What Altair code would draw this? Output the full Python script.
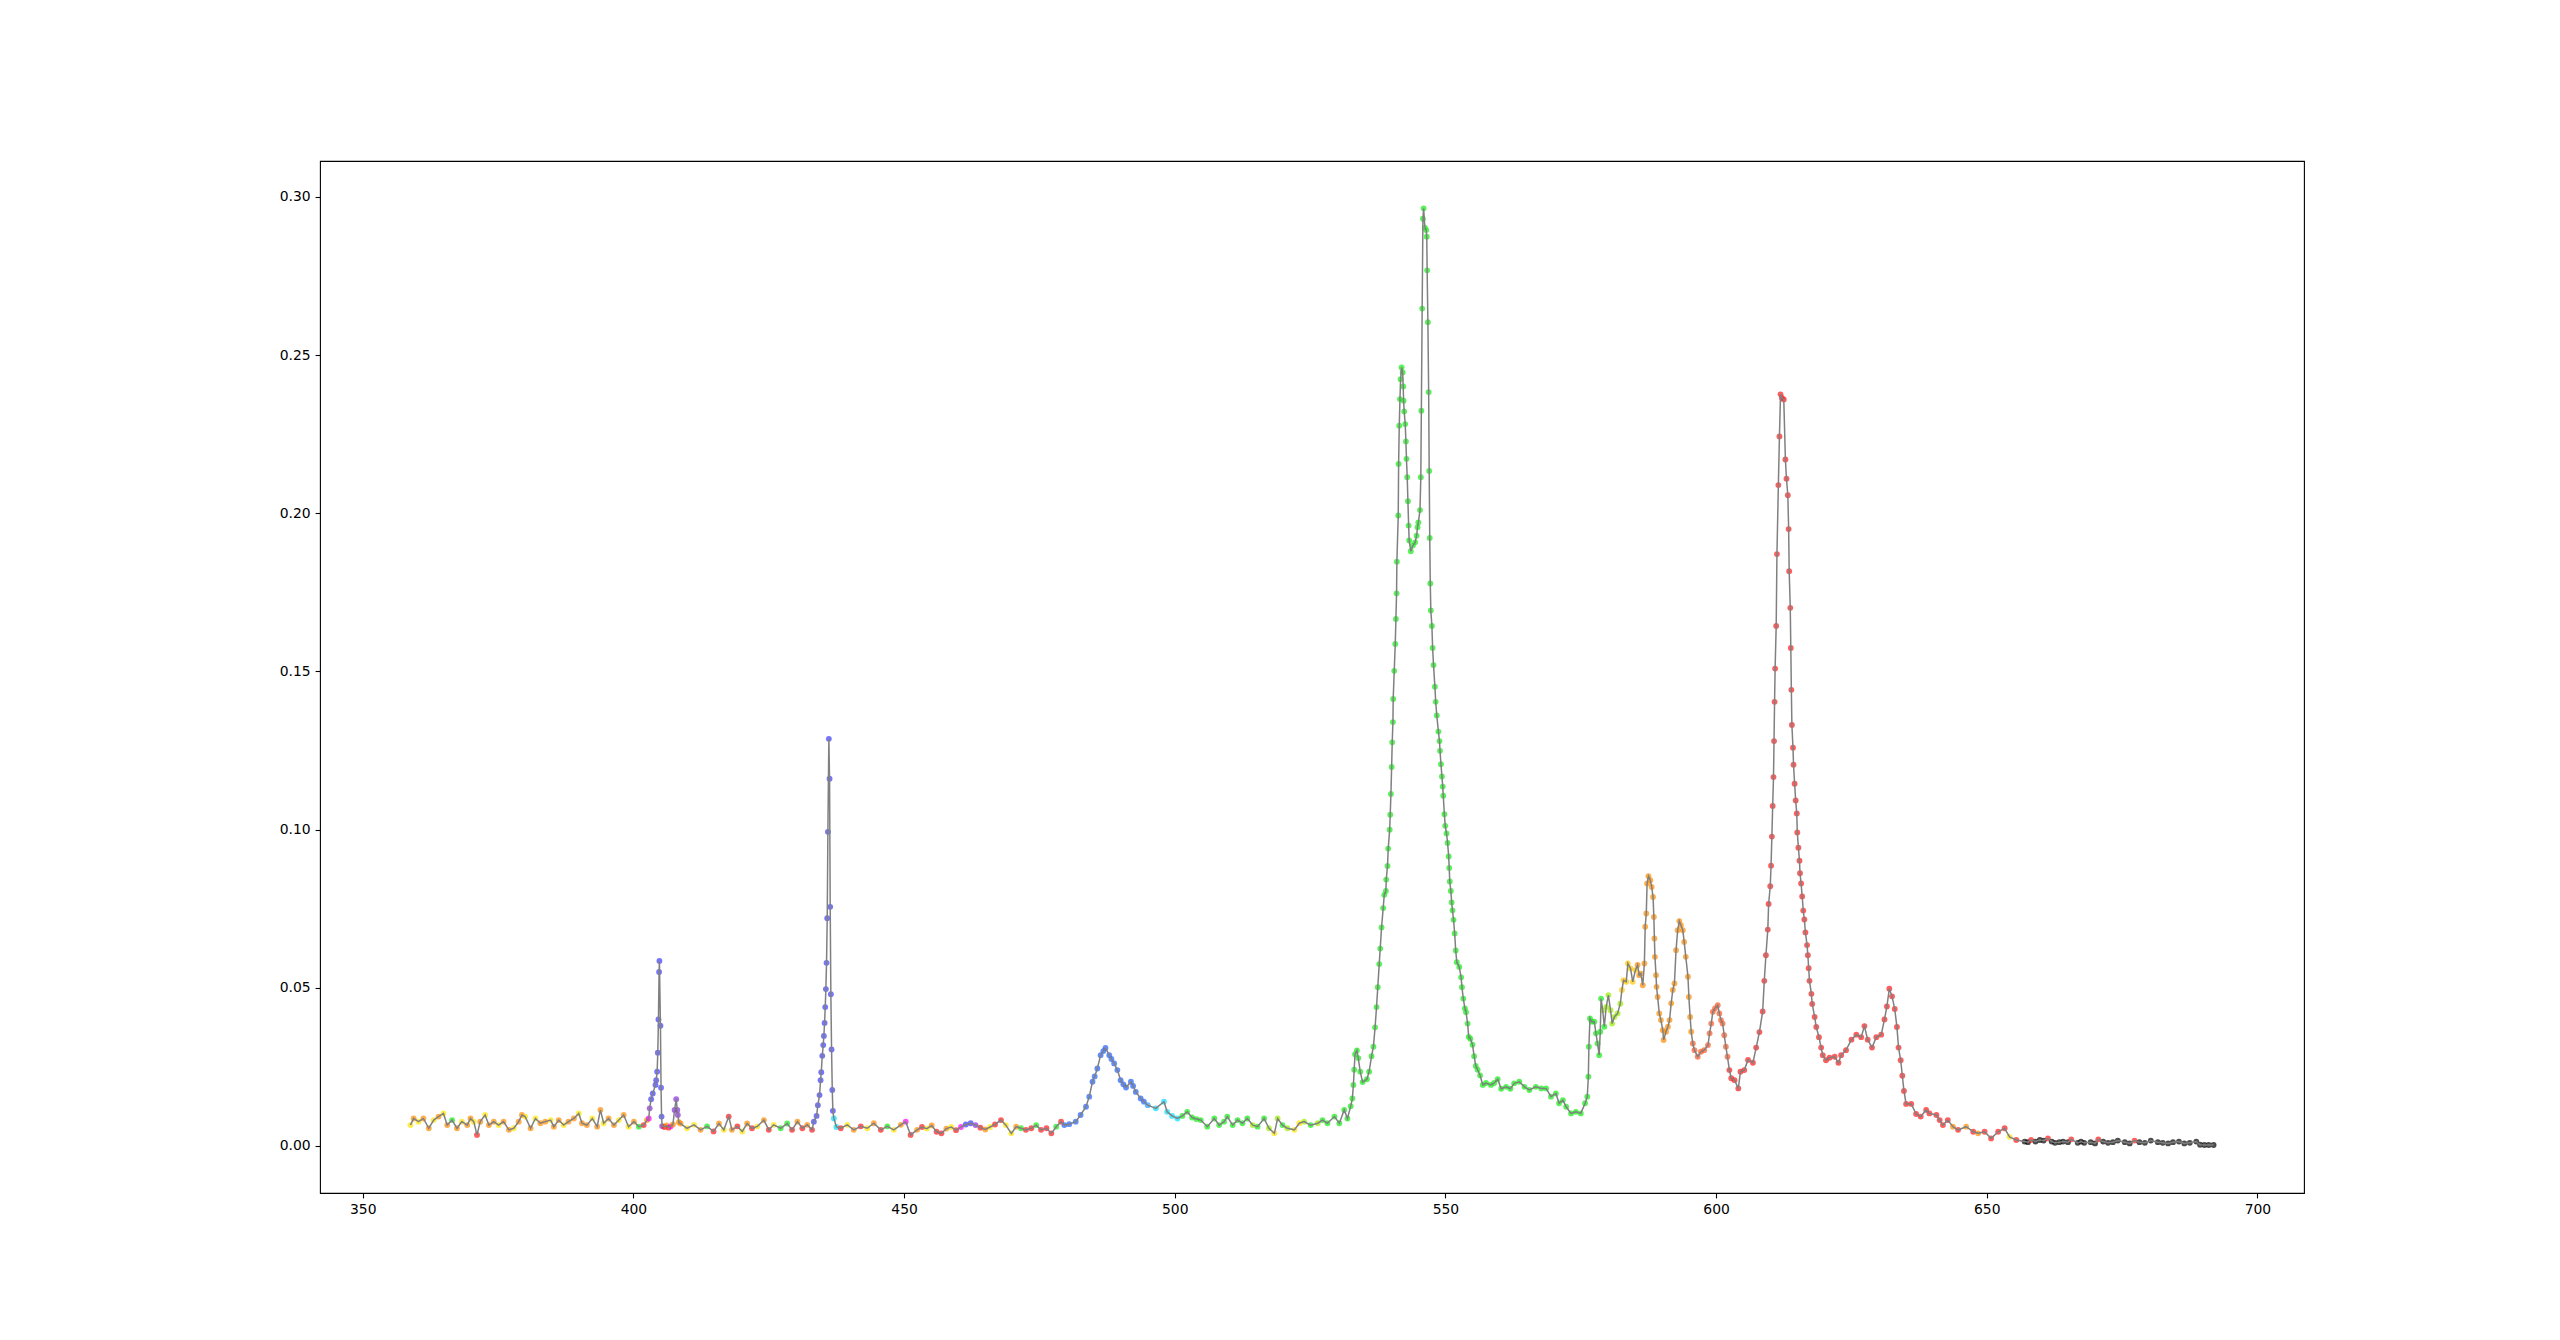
import altair as alt
import pandas as pd

# ---------------- data (wavelength nm, intensity, colour codes) ----------------
# baseline 359-402 nm
base_uv_wl = [358.8, 359.4, 360.3, 361.2, 362.2, 363.1, 364.0, 364.9, 365.6, 366.5,
              367.4, 368.3, 369.3, 369.9, 370.5, 371.1, 371.7, 372.6, 373.3, 374.2,
              375.1, 376.0, 377.0, 377.9, 378.8, 379.4, 380.0, 381.0, 381.9, 382.8,
              383.7, 384.7, 385.3, 386.2, 387.1, 388.0, 389.0, 389.9, 390.5, 391.4,
              392.4, 393.3, 393.9, 394.5, 395.4, 396.4, 397.3, 398.2, 399.1, 400.1,
              401.0, 401.9, 402.5]
base_uv_val = [0.0066, 0.0087, 0.0077, 0.0087, 0.0056, 0.0082, 0.0093, 0.0103, 0.0066, 0.0082,
               0.0056, 0.0077, 0.0066, 0.0087, 0.0077, 0.0035, 0.0077, 0.0098, 0.0066, 0.0077,
               0.0066, 0.0077, 0.0051, 0.0056, 0.0077, 0.0098, 0.0093, 0.0056, 0.0087, 0.0072,
               0.0077, 0.0082, 0.0061, 0.0082, 0.0066, 0.0077, 0.0087, 0.0103, 0.0072, 0.0066,
               0.0087, 0.0061, 0.0114, 0.0072, 0.0087, 0.0066, 0.0082, 0.0098, 0.0061, 0.0077,
               0.0061, 0.0066, 0.0082]
base_uv_col = "yoyooyoyog" "oyooyroyoo" "yooyooyoyo" "oyooyooyoo" "yooyooyoyo" "gro"

# Hg 404.7 nm line and small 407.8 line
peak405_wl = [402.83, 403.0, 403.27, 403.57, 404.07, 404.2, 404.38, 404.5, 404.62, 404.74,
              404.8, 404.99, 405.1, 405.2, 405.3, 405.7, 406.1, 406.5, 406.9, 407.3,
              407.6, 407.9, 408.1, 408.2, 408.4]
peak405_val = [0.0087, 0.0119, 0.0148, 0.0166, 0.0193, 0.0208, 0.0235, 0.0295, 0.040, 0.055,
               0.0585, 0.038, 0.0184, 0.0093, 0.0063, 0.0060, 0.0065, 0.0058, 0.0062, 0.0068,
               0.0114, 0.0148, 0.0114, 0.0098, 0.0075]
peak405_col = "mv" "bbbbbbbbbbbb" "vrormovvvvo"

# baseline 408-433 nm
base_b1_wl = [408.7, 409.9, 411.2, 412.4, 413.6, 414.8, 415.8, 416.7, 417.6, 418.2,
              419.2, 420.1, 421.0, 421.9, 422.9, 424.1, 425.0, 425.9, 427.2, 428.4,
              429.3, 430.3, 431.2, 432.1, 433.0]
base_b1_val = [0.0071, 0.0056, 0.0067, 0.0051, 0.0062, 0.0046, 0.0071, 0.0051, 0.0093, 0.0051,
               0.0062, 0.0046, 0.0071, 0.0056, 0.0062, 0.0082, 0.0051, 0.0067, 0.0056, 0.0071,
               0.0051, 0.0077, 0.0056, 0.0067, 0.0051]
base_b1_col = "oyyogroyroryoryoryggroror"

# Hg 435.8 nm line
peak436_wl = [433.33, 433.83, 434.07, 434.38, 434.57, 434.7, 434.88, 435.06, 435.18, 435.31,
              435.43, 435.55, 435.67, 435.8, 435.92, 436.1, 436.23, 436.35, 436.47, 436.6,
              436.73, 436.84, 437.03]
peak436_val = [0.0077, 0.0095, 0.0129, 0.0161, 0.0208, 0.0233, 0.0285, 0.0319, 0.0348, 0.0389,
               0.0439, 0.0496, 0.0579, 0.072, 0.0993, 0.1287, 0.1161, 0.0756, 0.048, 0.0305,
               0.0177, 0.0111, 0.0087]
peak436_col = "bbbbbbbbbbbbbbbbbbbbbbc"

# baseline 437-479 nm
base_b2_wl = [437.5, 438.3, 439.5, 440.7, 442.0, 443.2, 444.4, 445.7, 446.9, 448.1,
              449.4, 450.3, 451.2, 452.4, 453.3, 454.2, 455.1, 456.0, 456.9, 457.8,
              458.7, 459.6, 460.5, 461.4, 462.3, 463.2, 464.1, 465.0, 465.9, 466.8,
              467.9, 468.8, 469.8, 470.7, 471.6, 472.5, 473.5, 474.4, 475.3, 476.3,
              477.2, 478.1, 479.0]
base_b2_val = [0.0060, 0.0056, 0.0067, 0.0051, 0.0062, 0.0056, 0.0072, 0.0051, 0.0062, 0.0051,
               0.0067, 0.0077, 0.0035, 0.0051, 0.0060, 0.0055, 0.0065, 0.0045, 0.0040, 0.0055,
               0.0060, 0.0050, 0.0060, 0.0068, 0.0072, 0.0066, 0.0058, 0.0052, 0.0060, 0.0068,
               0.0082, 0.0066, 0.0040, 0.0061, 0.0056, 0.0051, 0.0056, 0.0066, 0.0051, 0.0056,
               0.0040, 0.0061, 0.0077]
base_b2_col = "cryoryorgy" "omroryorro" "yrmbbvroyr" "ryyogrrgrr" "rgr"

# hump around 487 nm
hump487_wl = [479.6, 480.5, 481.7, 482.6, 483.6, 484.2, 484.8, 485.2, 485.7, 486.3,
              486.8, 487.2, 487.9, 488.3, 488.8, 489.4, 490.0, 490.5, 491.0, 491.9,
              492.3, 492.8, 493.7, 494.3, 495.0, 496.5, 498.0, 498.6, 499.5, 500.5,
              501.4, 502.3, 503.2, 504.0, 504.8]
hump487_val = [0.0066, 0.0069, 0.0077, 0.0098, 0.0124, 0.0156, 0.0203, 0.0220, 0.0245, 0.0287,
               0.0300, 0.0310, 0.0287, 0.0275, 0.0261, 0.0240, 0.0208, 0.0195, 0.0185, 0.0203,
               0.0190, 0.0171, 0.0150, 0.0140, 0.0129, 0.0119, 0.0140, 0.0108, 0.0095, 0.0087,
               0.0095, 0.0108, 0.0090, 0.0085, 0.0082]
hump487_col = "aaaaaaaaaaaaaaaaaaaaaaaa" "s" "ccccc" "ggggg"

# baseline 506-532 nm
base_g_wl = [506.0, 507.3, 508.2, 509.1, 509.7, 510.7, 511.6, 512.5, 513.4, 514.4,
             515.3, 516.5, 517.4, 518.4, 519.0, 519.9, 520.8, 522.1, 523.0, 523.9,
             525.1, 526.4, 527.3, 528.2, 529.5, 530.4, 531.3, 531.9]
base_g_val = [0.0061, 0.0087, 0.0066, 0.0077, 0.0093, 0.0066, 0.0082, 0.0072, 0.0087, 0.0066,
              0.0061, 0.0087, 0.0056, 0.0040, 0.0087, 0.0066, 0.0056, 0.0051, 0.0072, 0.0077,
              0.0066, 0.0072, 0.0082, 0.0072, 0.0093, 0.0072, 0.0114, 0.0087]
base_g_col = "ggggggggg" "lggly" "lglyy" "lgl" "gggggg"

# 542 / 546 nm double peak
peak546_wl = [532.5, 532.8, 533.0, 533.14, 533.3, 533.65, 533.9, 534.26, 534.7, 535.5,
              535.9, 536.35, 536.7, 537.0, 537.27, 537.5, 537.77, 537.95, 538.2, 538.5,
              538.7, 539.0, 539.06, 539.3, 539.43, 539.7, 539.8, 539.93, 540.06, 540.17,
              540.3, 540.35, 540.54, 540.73, 540.85, 540.97, 541.03, 541.28, 541.35, 541.47,
              541.6, 541.72, 541.9, 542.1, 542.2, 542.27, 542.38, 542.57, 542.7, 542.8,
              542.94, 543.07, 543.2, 543.3, 543.6, 543.99, 544.4, 544.67, 544.85, 545.0,
              545.3, 545.45, 545.55, 545.7, 545.84, 545.97, 546.2, 546.45, 546.55, 546.62,
              546.76, 546.9, 547.0, 547.1, 547.2, 547.3, 547.5, 547.63, 547.8, 548.05,
              548.2, 548.4, 548.7, 548.9, 549.0, 549.17, 549.35, 549.5, 549.6, 549.8,
              549.96, 550.2, 550.4, 550.6, 550.7, 550.8, 551.0, 551.15, 551.3, 551.5,
              551.7, 551.9, 552.1, 552.55, 552.9, 553.05, 553.3, 553.6, 553.8, 554.1,
              554.3, 554.6, 555.0, 555.3, 555.6, 555.95, 556.4, 556.9, 557.5, 558.4,
              559.0, 559.65, 560.3, 561.2, 562.0]
peak546_val = [0.0126, 0.0150, 0.0193, 0.0241, 0.0290, 0.0302, 0.0278, 0.0235, 0.0202, 0.0211,
               0.0235, 0.0284, 0.0314, 0.0375, 0.0439, 0.0502, 0.0575, 0.0624, 0.0691, 0.0752,
               0.0794, 0.0806, 0.0842, 0.0885, 0.0940, 0.1000, 0.1047, 0.1113, 0.1198, 0.1276,
               0.1340, 0.1413, 0.1502, 0.1587, 0.1666, 0.1747, 0.1847, 0.1993, 0.2156, 0.2277,
               0.2361, 0.2424, 0.2461, 0.2445, 0.2401, 0.2356, 0.2322, 0.2282, 0.2227, 0.2172,
               0.2114, 0.2038, 0.1961, 0.1914, 0.1880, 0.1898, 0.1908, 0.1929, 0.1956, 0.1971,
               0.2010, 0.2114, 0.2324, 0.2647, 0.2931, 0.2964, 0.2903, 0.2895, 0.2874, 0.2768,
               0.2604, 0.2383, 0.2134, 0.1922, 0.1778, 0.1693, 0.1644, 0.1574, 0.1520, 0.1452,
               0.1404, 0.1361, 0.1310, 0.1280, 0.1249, 0.1207, 0.1168, 0.1136, 0.1107, 0.1049,
               0.1012, 0.0988, 0.0958, 0.0915, 0.0879, 0.0836, 0.0806, 0.0770, 0.0745, 0.0715,
               0.0672, 0.0618, 0.0581, 0.0566, 0.0533, 0.0502, 0.0466, 0.0435, 0.0423, 0.0387,
               0.0345, 0.0339, 0.0320, 0.0284, 0.0253, 0.0241, 0.0223, 0.0193, 0.0199, 0.0193,
               0.0199, 0.0211, 0.0181, 0.0187, 0.0181]
peak546_col = "g"

# 562-606 nm (plateau, 577-595 orange peaks)
mid_wl = [562.7, 563.65, 564.6, 565.5, 566.7, 567.7, 568.6, 569.5, 570.4, 571.0,
          571.7, 572.3, 573.2, 574.1, 575.0, 575.8, 576.2, 576.4, 576.5, 576.7,
          577.0, 577.5, 577.8, 578.1, 578.4, 578.6, 578.75, 579.05, 579.35, 579.7,
          580.1, 580.5, 580.8, 581.2, 581.8, 582.3, 582.6, 582.9, 583.4, 583.7,
          584.2, 584.6, 585.1, 585.5, 585.8, 586.1, 586.45, 586.75, 586.9, 587.1,
          587.25, 587.5, 587.85, 588.1, 588.35, 588.5, 588.6, 588.7, 588.9, 589.0,
          589.2, 589.5, 589.8, 590.15, 590.3, 590.75, 591.1, 591.4, 591.7, 592.0,
          592.3, 592.6, 592.9, 593.2, 593.5, 593.85, 594.1, 594.4, 594.8, 594.97,
          595.2, 595.4, 595.7, 596.0, 596.6, 597.2, 597.8, 598.5, 598.8, 599.1,
          599.4, 599.8, 600.3, 600.6, 600.9, 601.2, 601.5, 601.8, 602.1, 602.45,
          602.8, 603.4, 604.1, 604.5, 605.2, 605.9]
mid_val = [0.0198, 0.0203, 0.0187, 0.0177, 0.0187, 0.0182, 0.0182, 0.0156, 0.0166, 0.0135,
           0.0145, 0.0124, 0.0103, 0.0108, 0.0103, 0.0135, 0.0156, 0.0219, 0.0314, 0.0403,
           0.0393, 0.0393, 0.0356, 0.0324, 0.0287, 0.0361, 0.0466, 0.0429, 0.0377, 0.0440,
           0.0477, 0.0429, 0.0387, 0.0408, 0.0419, 0.0450, 0.0493, 0.0524, 0.0519, 0.0577,
           0.0561, 0.0519, 0.0556, 0.0572, 0.0540, 0.0545, 0.0508, 0.0577, 0.0693, 0.0735,
           0.0830, 0.0853, 0.0840, 0.0819, 0.0787, 0.0724, 0.0656, 0.0598, 0.0540, 0.0503,
           0.0471, 0.0419, 0.0398, 0.0366, 0.0335, 0.0361, 0.0377, 0.0398, 0.0451, 0.0493,
           0.0514, 0.0619, 0.0682, 0.0711, 0.0698, 0.0682, 0.0645, 0.0598, 0.0535, 0.0471,
           0.0408, 0.0361, 0.0324, 0.0303, 0.0282, 0.0298, 0.0303, 0.0319, 0.0356, 0.0387,
           0.0424, 0.0435, 0.0445, 0.0419, 0.0398, 0.0387, 0.0350, 0.0314, 0.0282, 0.0240,
           0.0214, 0.0208, 0.0182, 0.0235, 0.0240, 0.0272]
mid_col = ("g" * 27 + "lg" + "l" * 7 + "d" * 7 + "o" * 39 + "n" * 17 + "r" * 7)

# 612 nm red peak and 632 nm shoulder
peak612_wl = [606.8, 607.4, 608.0, 608.6, 608.9, 609.2, 609.55, 609.7, 610.0, 610.15,
              610.3, 610.45, 610.6, 610.7, 610.8, 610.9, 611.1, 611.24, 611.5, 611.7,
              611.9, 612.15, 612.5, 612.8, 613.0, 613.25, 613.4, 613.5, 613.7, 613.8,
              613.9, 614.0, 614.2, 614.3, 614.5, 614.7, 614.9, 615.0, 615.2, 615.4,
              615.5, 615.7, 615.9, 616.1, 616.3, 616.5, 616.8, 616.95, 617.1, 617.25,
              617.6, 617.75, 618.2, 618.5, 619.0, 619.4, 619.7, 620.3, 620.95, 621.9,
              622.6, 623.1, 624.0, 625.0, 625.9, 626.8, 627.4, 628.0, 628.8, 629.6,
              630.5, 631.1, 631.55, 632.0, 632.5, 633.0, 633.4, 633.7, 634.1, 634.4,
              634.7, 635.1, 636.05, 636.95, 637.8]
peak612_val = [0.0263, 0.0311, 0.0360, 0.0425, 0.0522, 0.0603, 0.0684, 0.0765, 0.0821, 0.0886,
               0.0978, 0.1075, 0.1166, 0.1280, 0.1404, 0.1509, 0.1644, 0.1871, 0.2089, 0.2243,
               0.2376, 0.2365, 0.2360, 0.2170, 0.2109, 0.2057, 0.1950, 0.1817, 0.1701, 0.1574,
               0.1442, 0.1331, 0.1259, 0.1205, 0.1145, 0.1092, 0.1051, 0.0991, 0.0943, 0.0902,
               0.0862, 0.0830, 0.0789, 0.0744, 0.0716, 0.0675, 0.0635, 0.0603, 0.0562, 0.0522,
               0.0481, 0.0449, 0.0408, 0.0376, 0.0344, 0.0311, 0.0287, 0.0271, 0.0279, 0.0282,
               0.0263, 0.0287, 0.0303, 0.0336, 0.0352, 0.0344, 0.0379, 0.0336, 0.0311, 0.0344,
               0.0352, 0.0400, 0.0441, 0.0497, 0.0473, 0.0433, 0.0376, 0.0311, 0.0271, 0.0222,
               0.0174, 0.0133, 0.0133, 0.0101, 0.0093]
peak612_col = "r"

# decay 638-656 nm
decay_wl = [638.8, 639.4, 640.7, 641.3, 641.9, 642.8, 643.75, 644.7, 646.2, 647.5,
            648.4, 649.6, 650.8, 652.1, 653.3, 654.2, 655.45]
decay_val = [0.0114, 0.0103, 0.0098, 0.0082, 0.0066, 0.0082, 0.0061, 0.0051, 0.0061, 0.0045,
             0.0040, 0.0045, 0.0024, 0.0045, 0.0056, 0.0029, 0.0019]
decay_col = "rrrrrroror" "orrrryr"

# near-zero tail 657-692 nm
tail_wl = [657.0, 657.6, 658.2, 659.0, 659.8, 660.5, 661.3, 662.0, 662.6, 663.4,
           664.1, 665.0, 665.6, 666.8, 667.4, 668.0, 669.2, 670.0, 670.6, 671.5,
           672.4, 673.3, 674.2, 675.5, 676.4, 677.3, 678.2, 679.2, 680.3, 681.6,
           682.5, 683.5, 684.4, 685.5, 686.5, 687.5, 688.7, 689.4, 690.2, 691.0,
           691.9]
tail_val = [0.0014, 0.0012, 0.0019, 0.0014, 0.0019, 0.0017, 0.0024, 0.0014, 0.0010, 0.0012,
            0.0014, 0.0012, 0.0021, 0.0010, 0.0014, 0.0010, 0.0012, 0.0008, 0.0021, 0.0014,
            0.0010, 0.0012, 0.0017, 0.0012, 0.0008, 0.0017, 0.0012, 0.0010, 0.0017, 0.0012,
            0.0010, 0.0008, 0.0012, 0.0014, 0.0008, 0.0010, 0.0014, 0.0004, 0.0003, 0.0003,
            0.0003]
tail_col = "kkrkkkrkkkkkrkkkkkrkkkkkkr" + "k" * 15

x_ticks = [350, 400, 450, 500, 550, 600, 650, 700]
y_ticks = [0.0, 0.05, 0.10, 0.15, 0.20, 0.25, 0.30]

PALETTE = {
    "y": "#ffe600", "o": "#ff8c00", "r": "#ff1a1a", "g": "#11ee11", "l": "#99ee00",
    "d": "#ffc800", "n": "#ff5522", "b": "#3b3bff", "v": "#8a2be2", "m": "#ff00ff",
    "a": "#1f5fff", "s": "#1fa0ff", "c": "#00e0ff", "k": "#000000",
}

SEGMENTS = [
    (base_uv_wl, base_uv_val, base_uv_col),
    (peak405_wl, peak405_val, peak405_col),
    (base_b1_wl, base_b1_val, base_b1_col),
    (peak436_wl, peak436_val, peak436_col),
    (base_b2_wl, base_b2_val, base_b2_col),
    (hump487_wl, hump487_val, hump487_col),
    (base_g_wl, base_g_val, base_g_col),
    (peak546_wl, peak546_val, peak546_col),
    (mid_wl, mid_val, mid_col),
    (peak612_wl, peak612_val, peak612_col),
    (decay_wl, decay_val, decay_col),
    (tail_wl, tail_val, tail_col),
]

wl_all, val_all, col_all = [], [], []
for wl, val, col in SEGMENTS:
    n = min(len(wl), len(val))
    codes = (col + col[-1] * n)[:n]
    wl_all += list(wl[:n])
    val_all += list(val[:n])
    col_all += [PALETTE[c] for c in codes]

df = pd.DataFrame({"wl": wl_all, "val": val_all, "color": col_all})
df["idx"] = range(len(df))

x_enc = alt.X("wl:Q",
              scale=alt.Scale(domain=[342.1, 708.6], nice=False, zero=False),
              axis=alt.Axis(values=x_ticks, format="d", title=None, labelFlush=False))
y_enc = alt.Y("val:Q",
              scale=alt.Scale(domain=[-0.01486, 0.31135], nice=False, zero=False),
              axis=alt.Axis(values=y_ticks, format=".2f", title=None))

points = alt.Chart(df).mark_circle(size=34, opacity=0.7).encode(
    x=x_enc, y=y_enc, color=alt.Color("color:N", scale=None))
line = alt.Chart(df).mark_line(color="#808080", strokeWidth=1.5).encode(
    x=x_enc, y=y_enc, order="idx:Q")

chart = alt.layer(points, line).properties(
    width=1984, height=1032,
    autosize=alt.AutoSizeParams(type="none"),
    padding={"left": 312, "top": 153, "right": 230, "bottom": 130},
    background="white",
).configure_view(stroke="black", strokeWidth=1.1).configure_axis(
    labelFont="DejaVu Sans", labelFontSize=13.9, labelColor="black",
    tickColor="black", tickWidth=1.1, tickSize=4.9, labelPadding=4.9,
    domain=False, grid=False, labelOverlap=False,
)

chart.save("out.html", embed_options={"renderer": "svg", "actions": False})
